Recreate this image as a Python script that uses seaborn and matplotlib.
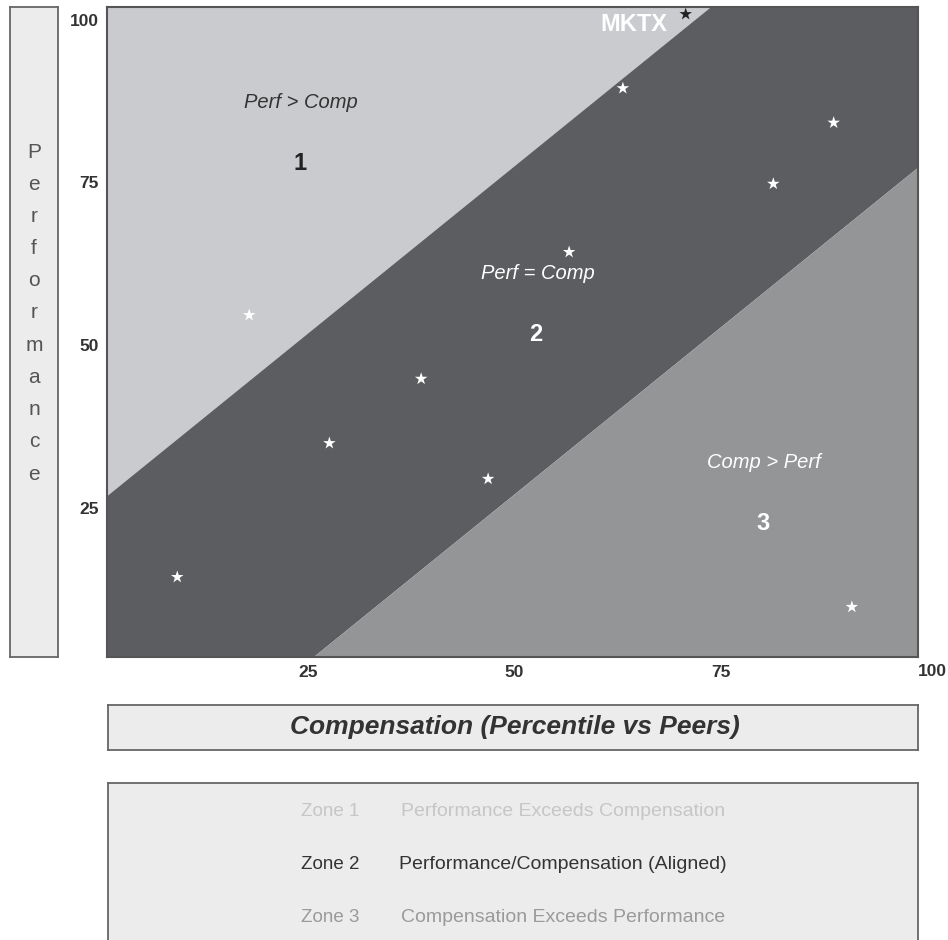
import matplotlib
matplotlib.use("Agg")
import matplotlib.pyplot as plt
import seaborn as sns
import pandas as pd
import numpy as np

sns.set_style("white")
plt.rcParams['font.family'] = ['Liberation Sans', 'DejaVu Sans']

# ---- data ----
comp = [9.2, 17.9, 27.6, 38.7, 46.8, 56.6, 63.1, 70.7, 81.3, 88.6, 90.8]
perf = [14.3, 54.6, 34.9, 44.8, 29.4, 64.3, 89.5, 100.9, 74.8, 84.2, 9.7]
company = ["", "", "", "", "", "", "", "MKTX", "", "", ""]
highlight = [False, False, False, False, False, False, False, True, False, False, False]

# zone boundary lines (x endpoints, y endpoints)
edge_x = [0, 100]
upper_y = [26.0, 129.0]   # zone 1 / zone 2
lower_y = [-24.5, 78.5]   # zone 2 / zone 3

x_ticks = [25, 50, 75]
y_ticks = [25, 50, 75, 100]
zone_labels = ["Zone 1", "Zone 2", "Zone 3"]
zone_desc = ["Performance Exceeds Compensation",
             "Performance/Compensation (Aligned)",
             "Compensation Exceeds Performance"]

df = pd.DataFrame({"comp": comp, "perf": perf, "company": company,
                   "highlight": highlight})

W, H = 948, 940
fig = plt.figure(figsize=(W / 100, H / 100), dpi=100)

def fx(px):
    return px / W

def fy(py):
    return 1 - py / H

c_zone1 = "#c9cbce"
c_zone2 = "#5b5d60"
c_zone3 = "#939597"
edge_col = "#555555"

# ---- main axes ----
ax = fig.add_axes([fx(107), fy(657), fx(918) - fx(107), (657 - 7) / H])
xlo, xhi = 0.7, 98.8
ylo, yhi = 2.0, 102.0
ax.set_xlim(xlo, xhi)
ax.set_ylim(ylo, yhi)

xx = np.array(edge_x, dtype=float)
up = np.array(upper_y)
lo = np.array(lower_y)
ax.fill_between(xx, up, 200, color=c_zone1, zorder=0, linewidth=0)
ax.fill_between(xx, lo, up, color=c_zone2, zorder=0, linewidth=0)
ax.fill_between(xx, -100, lo, color=c_zone3, zorder=0, linewidth=0)

sns.scatterplot(data=df, x="comp", y="perf", hue="highlight",
                palette={False: "white", True: "#222222"},
                marker="*", s=90, edgecolor="none", legend=False,
                ax=ax, zorder=3, clip_on=False)

for _, r in df[df["company"] != ""].iterrows():
    ax.text(r["comp"] - 2.2, r["perf"] - 1.6, r["company"], color="white",
            fontsize=17, fontweight="bold", ha="right", va="center", zorder=4)

ax.text(24.2, 87.3, "Perf > Comp", fontsize=14.5, style="italic",
        color="#333333", ha="center", va="center")
ax.text(24.0, 77.9, "1", fontsize=17, fontweight="bold",
        color="#222222", ha="center", va="center")
ax.text(52.8, 61.0, "Perf = Comp", fontsize=14.5, style="italic",
        color="white", ha="center", va="center")
ax.text(52.6, 51.6, "2", fontsize=17, fontweight="bold",
        color="white", ha="center", va="center")
ax.text(80.1, 31.9, "Comp > Perf", fontsize=14.5, style="italic",
        color="white", ha="center", va="center")
ax.text(80.0, 22.6, "3", fontsize=17, fontweight="bold",
        color="white", ha="center", va="center")

ax.set_xticks(x_ticks)
ax.set_yticks(y_ticks)
ax.tick_params(axis="both", length=0, labelsize=12.5, labelcolor="#333333", pad=6)
for lab in ax.get_xticklabels() + ax.get_yticklabels():
    lab.set_fontweight("bold")
fig.text(fx(947), fy(672), "100", fontsize=12.5, fontweight="bold",
         color="#333333", ha="right", va="center")
ax.set_xlabel("")
ax.set_ylabel("")
for sp in ax.spines.values():
    sp.set_color(edge_col)
    sp.set_linewidth(1.5)

box_face = "#ececed"

def box(x0, y0, x1, y1):
    b = fig.add_axes([fx(x0), fy(y1), fx(x1) - fx(x0), (y1 - y0) / H])
    b.set_facecolor(box_face)
    b.set_xticks([])
    b.set_yticks([])
    b.set_xlim(x0, x1)
    b.set_ylim(y1, y0)
    for sp in b.spines.values():
        sp.set_color("#666666")
        sp.set_linewidth(1.3)
    return b

# ---- y label box ----
yb = box(10, 7, 58, 657)
word = "Performance"
for i, ch in enumerate(word):
    yb.text(34, 152 + i * 32.2, ch, fontsize=15, color="#555555",
            ha="center", va="center")

# ---- x label box ----
xb = box(108, 705, 918, 750)
xb.text(515, 727, "Compensation (Percentile vs Peers)", fontsize=19,
        fontweight="bold", style="italic", color="#333333",
        ha="center", va="center")

# ---- legend box ----
lb = box(108, 783, 918, 942)
zone_colors = ["#c6c6c6", "#333333", "#9a9a9a"]
for i in range(3):
    yy = 812 + i * 52.5
    lb.text(330, yy, zone_labels[i], fontsize=13.5, color=zone_colors[i],
            ha="center", va="center")
    lb.text(563, yy, zone_desc[i], fontsize=14, color=zone_colors[i],
            ha="center", va="center")

fig.savefig("out.png", dpi=100)
